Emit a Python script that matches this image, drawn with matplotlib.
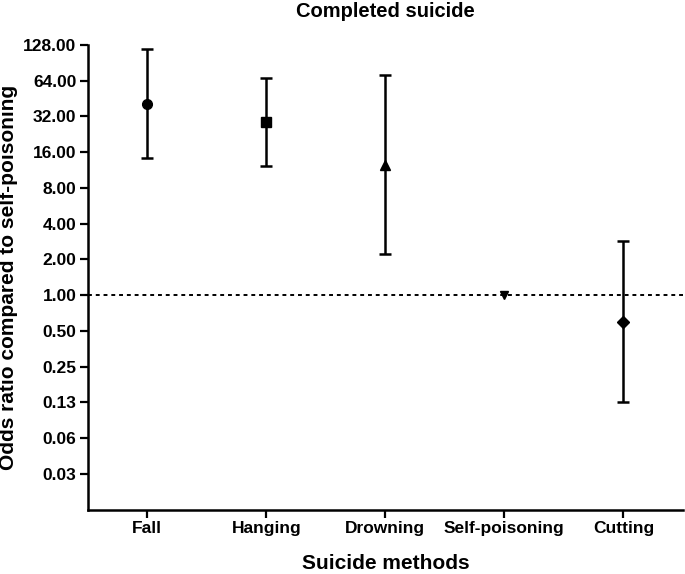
import matplotlib
matplotlib.use("Agg")
import matplotlib.pyplot as plt

plt.rcParams["font.family"] = ["Liberation Sans", "DejaVu Sans"]
plt.rcParams["font.weight"] = "bold"

# Odds ratios
methods = ["Fall", "Hanging", "Drowning", "Self-poisoning", "Cutting"]
odds = [41.0, 28.4, 12.4, 1.0, 0.59]
ci_low = [14.3, 12.3, 2.2, 1.0, 0.127]
ci_high = [118.0, 67.0, 71.0, 1.0, 2.83]
markers = ["o", "s", "^", "v", "D"]
marker_sizes = [7, 6.5, 7, 6, 6]

ytick_vals = [2.0 ** k for k in range(-5, 8)]
ytick_labels = ["0.03", "0.06", "0.13", "0.25", "0.50", "1.00", "2.00",
                "4.00", "8.00", "16.00", "32.00", "64.00", "128.00"]

fig = plt.figure(figsize=(6.85, 5.74), dpi=100)
ax = fig.add_axes([0.128, 0.112, 0.869, 0.81])

# reference line at OR = 1
ax.axhline(1.0, color="black", linestyle=(0, (2, 2)), linewidth=1.4, zorder=1)

for i, (m, o, lo, hi, mk, ms) in enumerate(zip(methods, odds, ci_low, ci_high, markers, marker_sizes)):
    if hi > lo:
        ax.errorbar(i, o, yerr=[[o - lo], [hi - o]], fmt="none", ecolor="black",
                    elinewidth=1.8, capsize=4, capthick=1.8, zorder=2)
    ax.plot(i, o, marker=mk, color="black", markersize=ms, linestyle="none", zorder=3)

ax.set_yscale("log", base=2)
ax.set_ylim(2.0 ** -6, 2.0 ** 7)
ax.set_yticks(ytick_vals)
ax.set_yticklabels(ytick_labels)
ax.minorticks_off()
ax.set_xlim(-0.5, 4.5)
ax.set_xticks(range(len(methods)))
ax.set_xticklabels(methods)

for s in ["top", "right"]:
    ax.spines[s].set_visible(False)
for s in ["left", "bottom"]:
    ax.spines[s].set_linewidth(1.8)

ax.tick_params(axis="both", direction="out", length=6, width=1.6, labelsize=12.5, pad=2)
for lbl in ax.get_xticklabels() + ax.get_yticklabels():
    lbl.set_fontweight("bold")

ax.set_ylabel("Odds ratio compared to self-poisoning", fontsize=15, fontweight="bold", labelpad=4)
ax.set_xlabel("Suicide methods", fontsize=15, fontweight="bold", labelpad=13)
ax.set_title("Completed suicide", fontsize=14.5, fontweight="bold", pad=20)

fig.savefig("out.png", dpi=100)
